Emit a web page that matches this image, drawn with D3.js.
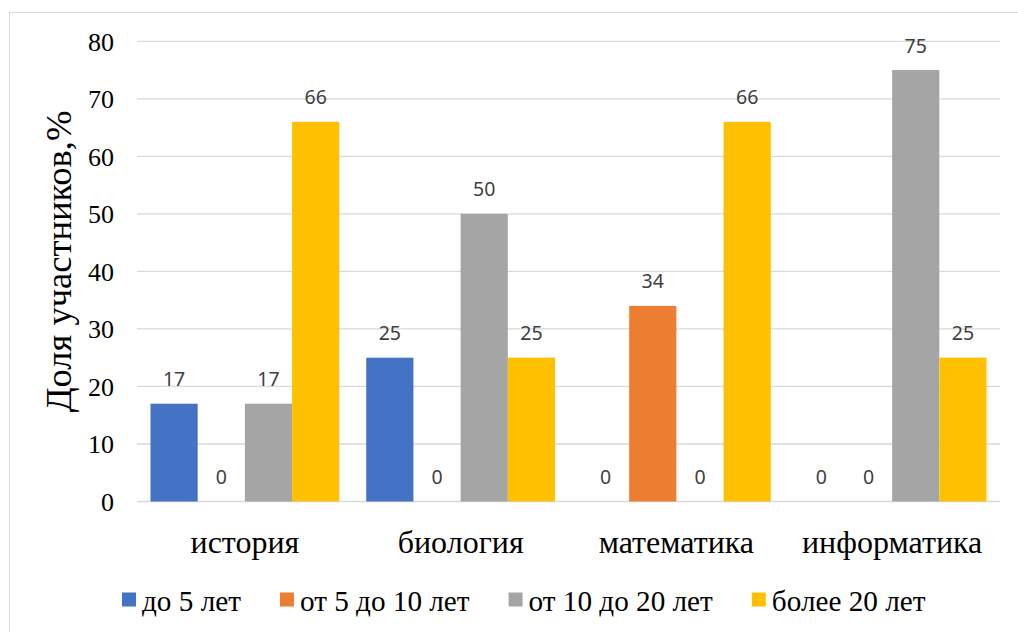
<!DOCTYPE html>
<html>
<head>
<meta charset="utf-8">
<script src="https://cdn.jsdelivr.net/npm/d3@7"></script>
<style>
  html, body { margin: 0; padding: 0; background: #ffffff; }
  svg { display: block; }
  .serif { font-family: "Liberation Serif", "Times New Roman", "DejaVu Serif", serif; }
  .sans { font-family: "Noto Sans", "Open Sans", sans-serif; }
</style>
</head>
<body>
<svg id="chart" width="1018" height="632"></svg>
<script>
// Subjects along the x axis
const categories = ["история", "биология", "математика", "информатика"];

// Teaching experience groups (legend entries)
const seriesNames = ["до 5 лет", "от 5 до 10 лет", "от 10 до 20 лет", "более 20 лет"];
const seriesColors = ["#4472C4", "#ED7D31", "#A5A5A5", "#FFC000"];

// Share of participants, % (one value per subject)
const under5 = [17, 25, 0, 0];
const from5to10 = [0, 0, 34, 0];
const from10to20 = [17, 50, 0, 75];
const over20 = [66, 25, 66, 25];

const yTicks = [0, 10, 20, 30, 40, 50, 60, 70, 80];
const yTitle = "Доля участников,%";

const seriesValues = [under5, from5to10, from10to20, over20];
const series = seriesNames.map((name, i) => ({
  name, color: seriesColors[i], values: seriesValues[i]
}));

const svg = d3.select("#chart");

// Chart frame
svg.append("rect")
  .attr("x", 9.5).attr("y", 12.5)
  .attr("width", 1040).attr("height", 640)
  .attr("fill", "#ffffff")
  .attr("stroke", "#d9d9d9").attr("stroke-width", 1);

const plot = { left: 137, right: 1000, top: 41.3, bottom: 501.5 };

const y = d3.scaleLinear().domain([0, 80]).range([plot.bottom, plot.top]);
const x = d3.scaleBand().domain(categories)
  .range([plot.left, plot.right])
  .paddingInner(0.125).paddingOuter(0.0625);
const xInner = d3.scaleBand().domain(seriesNames).range([0, x.bandwidth()]).padding(0);

// Horizontal gridlines
svg.append("g")
  .selectAll("line")
  .data(yTicks)
  .join("line")
  .attr("x1", plot.left).attr("x2", plot.right)
  .attr("y1", d => y(d)).attr("y2", d => y(d))
  .attr("stroke", "#d9d9d9").attr("stroke-width", 1.3);

// Y axis tick labels
const yAxis = d3.axisLeft(y).tickValues(yTicks).tickSize(0).tickPadding(0).tickFormat(d3.format("d"));
const yAxisG = svg.append("g")
  .attr("transform", `translate(${114},0)`)
  .call(yAxis);
yAxisG.select(".domain").remove();
yAxisG.attr("font-family", null).attr("font-size", null);
yAxisG.selectAll("text")
  .attr("class", "serif")
  .attr("font-size", 26)
  .attr("fill", "#000000")
  .attr("dy", "0.34em");

// Y axis title
svg.append("text")
  .attr("class", "serif")
  .attr("transform", `translate(71,${261.5}) rotate(-90)`)
  .attr("text-anchor", "middle")
  .attr("font-size", 36.5)
  .attr("fill", "#000000")
  .text(yTitle);

// Bars
const groups = svg.append("g")
  .selectAll("g")
  .data(categories)
  .join("g")
  .attr("transform", d => `translate(${x(d)},0)`);

groups.selectAll("rect")
  .data((c, ci) => series.map(s => ({ s, v: s.values[ci] })))
  .join("rect")
  .attr("x", d => xInner(d.s.name))
  .attr("width", xInner.bandwidth())
  .attr("y", d => y(d.v))
  .attr("height", d => y(0) - y(d.v))
  .attr("fill", d => d.s.color);

// Value labels above bars
groups.selectAll("text")
  .data((c, ci) => series.map(s => ({ s, v: s.values[ci] })))
  .join("text")
  .attr("class", "sans")
  .attr("x", d => xInner(d.s.name) + xInner.bandwidth() / 2)
  .attr("y", d => y(d.v) - 17.5)
  .attr("text-anchor", "middle")
  .attr("font-size", 19.5)
  .attr("fill", "#404040")
  .text(d => d.v);

// Category labels
const xAxis = d3.axisBottom(x).tickSize(0).tickPadding(0);
const xAxisG = svg.append("g")
  .attr("transform", `translate(0,${552.7})`)
  .call(xAxis);
xAxisG.select(".domain").remove();
xAxisG.attr("font-family", null).attr("font-size", null);
xAxisG.selectAll("text")
  .attr("class", "serif")
  .attr("font-size", 32)
  .attr("fill", "#000000")
  .attr("dy", 0);

// Legend
const legend = svg.append("g").attr("transform", "translate(122,0)");
let cursor = 0;
series.forEach(s => {
  const item = legend.append("g").attr("transform", `translate(${cursor},0)`);
  item.append("rect")
    .attr("x", 0).attr("y", 592.5)
    .attr("width", 14).attr("height", 14)
    .attr("fill", s.color);
  const t = item.append("text")
    .attr("class", "serif")
    .attr("x", 20).attr("y", 611)
    .attr("font-size", 29.2)
    .attr("fill", "#000000")
    .text(s.name);
  cursor += 20 + t.node().getComputedTextLength() + 39;
});
</script>
</body>
</html>
